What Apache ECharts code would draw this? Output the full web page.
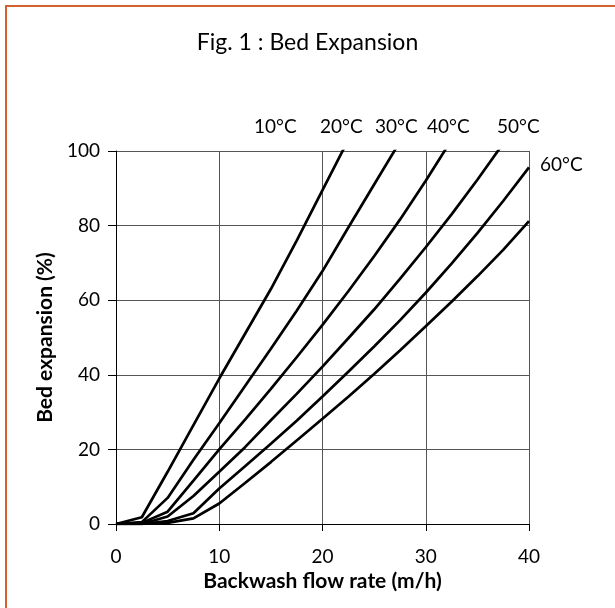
<!DOCTYPE html>
<html>
<head>
<meta charset="utf-8">
<script src="https://cdn.jsdelivr.net/npm/echarts@6/dist/echarts.min.js"></script>
<style>
  html, body { margin: 0; padding: 0; background: #fff; }
  #main { width: 615px; height: 608px; }
</style>
</head>
<body>
<div id="main"></div>
<script>
// flow rate (m/h) sampled every 2.5
var flowRate = [0, 2.5, 5, 7.5, 10, 12.5, 15, 17.5, 20, 22.5, 25, 27.5, 30, 32.5, 35, 37.5, 40];

// bed expansion (%) per curve
var exp10 = [0, 1.8, 14, 26.5, 39, 51, 63, 76, 89.5, 103];
var exp20 = [0, 0.5, 7, 17.2, 27, 37, 47, 57.2, 67.8, 79.5, 91, 102.5];
var exp30 = [0, 0.3, 3.3, 11.6, 20, 28, 36.2, 44.7, 53.4, 62.4, 71.8, 81.6, 92, 103];
var exp40 = [0, 0, 2, 7.5, 14, 20.6, 27.8, 34.9, 42.2, 49.8, 57.5, 65.7, 74.2, 83, 92.3, 102];
var exp50 = [0, 0, 0.8, 2.9, 9.5, 15.5, 21.5, 27.7, 34.2, 40.8, 47.6, 54.6, 62, 69.8, 78, 86.6, 95.6];
var exp60 = [0, 0, 0.3, 1.5, 5.5, 11, 16.6, 22.4, 28.2, 34.1, 40.2, 46.5, 53, 59.6, 66.4, 73.5, 81.2];

var tempLabels = ['10°C', '20°C', '30°C', '40°C', '50°C', '60°C'];
var curves = [exp10, exp20, exp30, exp40, exp50, exp60];

var FONT = 'Lato, "Open Sans", sans-serif';

var myChart = echarts.init(document.getElementById('main'));

// 每条曲线: x 取 flowRate 的前 n 个
var series = [];
for (var i = 0; i < curves.length; i++) {
  var pts = [];
  for (var j = 0; j < curves[i].length; j++) {
    pts.push([flowRate[j], curves[i][j]]);
  }
  series.push({
    type: 'line',
    name: tempLabels[i],
    data: pts,
    symbol: 'none',
    clip: true,
    lineStyle: { color: '#000', width: 2.7 },
    animation: false
  });
}

// 温度标签位置 (像素)
var labelPos = [[254, 117], [320, 117], [375, 117], [427, 117], [497, 117], [540, 155]];
var graphics = [{
  type: 'rect',
  shape: { x: 6, y: 6, width: 800, height: 800 },
  style: { fill: 'none', stroke: '#d4622e', lineWidth: 2 },
  silent: true
}];
for (var k = 0; k < tempLabels.length; k++) {
  graphics.push({
    type: 'text',
    left: labelPos[k][0],
    top: labelPos[k][1],
    style: { text: tempLabels[k], font: '19px ' + FONT, fill: '#000' }
  });
}

var option = {
  backgroundColor: '#fff',
  animation: false,
  title: {
    text: 'Fig. 1 : Bed Expansion',
    left: 'center',
    top: 26,
    textStyle: { fontFamily: FONT, fontWeight: 'normal', fontSize: 23, color: '#000' }
  },
  grid: { left: 116, right: 86, top: 151, bottom: 84 },
  xAxis: {
    type: 'value',
    min: 0,
    max: 40,
    interval: 10,
    name: 'Backwash flow rate (m/h)',
    nameLocation: 'middle',
    nameGap: 43,
    nameTextStyle: { fontFamily: FONT, fontWeight: 'bold', fontSize: 21, color: '#000' },
    axisLine: { lineStyle: { color: '#000', width: 1 } },
    axisTick: { show: true, inside: false, length: 7, lineStyle: { color: '#000' } },
    axisLabel: { fontFamily: FONT, fontSize: 19, color: '#000', margin: 23 },
    splitLine: { show: true, lineStyle: { color: '#555', width: 1 } }
  },
  yAxis: {
    type: 'value',
    min: 0,
    max: 100,
    interval: 20,
    name: 'Bed expansion (%)',
    nameLocation: 'middle',
    nameGap: 60,
    nameTextStyle: { fontFamily: FONT, fontWeight: 'bold', fontSize: 21, color: '#000' },
    axisLine: { show: true, lineStyle: { color: '#000', width: 1 } },
    axisTick: { show: true, inside: false, length: 8, lineStyle: { color: '#000' } },
    axisLabel: { fontFamily: FONT, fontSize: 19, color: '#000', margin: 16 },
    splitLine: { show: true, lineStyle: { color: '#555', width: 1 } }
  },
  graphic: graphics,
  series: series
};

myChart.setOption(option);
</script>
</body>
</html>
